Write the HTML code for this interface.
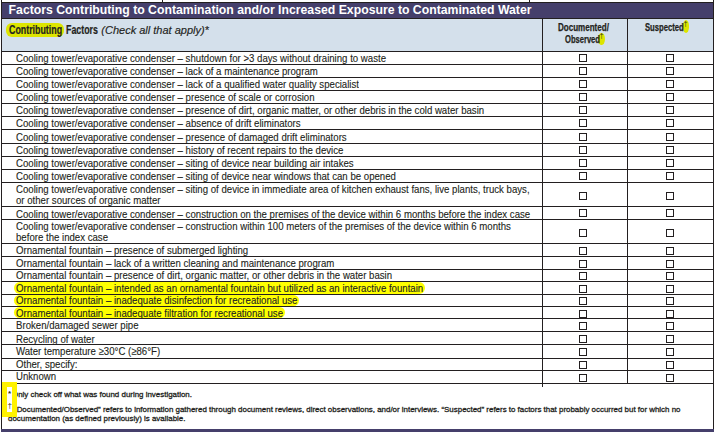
<!DOCTYPE html><html><head><meta charset="utf-8"><style>
html,body{margin:0;padding:0;}
body{width:715px;height:432px;position:relative;overflow:hidden;background:#fff;font-family:"Liberation Sans",sans-serif;color:#231f20;}
.a{position:absolute;}
.hl{position:absolute;background:#ffff00;border-radius:6px;}
.t{position:absolute;white-space:nowrap;font-size:11px;line-height:11px;transform-origin:0 0;transform:scaleX(0.875);-webkit-text-stroke:0.12px #231f20;}
.cb{position:absolute;width:6px;height:6px;border:1px solid #231f20;}
.vl{position:absolute;width:1px;background:#231f20;}
.hln{position:absolute;height:1px;background:#231f20;left:1px;width:713px;}
</style></head><body>

<div class="vl" style="left:162px;top:0;height:3px"></div>
<div class="vl" style="left:529px;top:0;height:3px"></div>
<div class="a" style="left:1px;top:2px;width:713px;height:17px;background:#231f20"></div>
<div class="a" style="left:1px;top:3px;width:713px;height:15px;background:#453f6b"></div>
<div class="a" style="left:8.6px;top:4px;white-space:nowrap;font-weight:bold;font-size:12.25px;line-height:12.25px;color:#fff">Factors Contributing to Contamination and/or Increased Exposure to Contaminated Water</div>
<div class="a" style="left:1px;top:19px;width:713px;height:32px;background:#d4e0eb"></div>
<div class="a" style="left:6px;top:22.5px;width:58.4px;height:14px;background:#dde500;border-radius:6px"></div>
<div class="a" style="left:9px;top:24px;white-space:nowrap;font-weight:bold;font-size:12px;line-height:12px;transform-origin:0 0;transform:scaleX(0.737);-webkit-text-stroke:0.2px #231f20">Contributing</div>
<div class="a" style="left:66px;top:24px;white-space:nowrap;font-weight:bold;font-size:12px;line-height:12px;transform-origin:0 0;transform:scaleX(0.737);-webkit-text-stroke:0.2px #231f20">Factors</div>
<div class="a" style="left:101.3px;top:25px;white-space:nowrap;font-style:italic;font-size:11px;line-height:11px;-webkit-text-stroke:0.15px #231f20">(Check all that apply)*</div>
<div class="a" style="left:598.3px;top:33px;width:6.5px;height:12.3px;background:#dde500;border-radius:50%"></div>
<div class="a" style="left:682.5px;top:20.2px;width:6.8px;height:13px;background:#dde500;border-radius:50%"></div>
<div style="position:absolute;white-space:nowrap;font-weight:bold;font-size:10.8px;line-height:10.8px;transform-origin:0 0;-webkit-text-stroke:0.25px #231f20;left:558.2px;top:22px;transform:scaleX(0.744)">Documented/</div>
<div style="position:absolute;white-space:nowrap;font-weight:bold;font-size:10.8px;line-height:10.8px;transform-origin:0 0;-webkit-text-stroke:0.25px #231f20;left:564.5px;top:34px;transform:scaleX(0.702)">Observed</div>
<div style="position:absolute;white-space:nowrap;font-weight:bold;font-size:10.8px;line-height:10.8px;transform-origin:0 0;-webkit-text-stroke:0.25px #231f20;left:644.7px;top:22px;transform:scaleX(0.709)">Suspected</div>
<div class="a" style="left:599.8px;top:33px;font-size:6.5px;line-height:6.5px">†</div>
<div class="a" style="left:683.8px;top:21px;font-size:6.5px;line-height:6.5px">†</div>
<div class="hln" style="top:51px"></div>
<div class="hln" style="top:64px"></div>
<div class="hln" style="top:77px"></div>
<div class="hln" style="top:90px"></div>
<div class="hln" style="top:103px"></div>
<div class="hln" style="top:116px"></div>
<div class="hln" style="top:129px"></div>
<div class="hln" style="top:143px"></div>
<div class="hln" style="top:156px"></div>
<div class="hln" style="top:169px"></div>
<div class="hln" style="top:182px"></div>
<div class="hln" style="top:206px"></div>
<div class="hln" style="top:219px"></div>
<div class="hln" style="top:243px"></div>
<div class="hln" style="top:256px"></div>
<div class="hln" style="top:269px"></div>
<div class="hln" style="top:281px"></div>
<div class="hln" style="top:294px"></div>
<div class="hln" style="top:306px"></div>
<div class="hln" style="top:318px"></div>
<div class="hln" style="top:331px"></div>
<div class="hln" style="top:344px"></div>
<div class="hln" style="top:358px"></div>
<div class="hln" style="top:370px"></div>
<div class="hln" style="top:383px"></div>
<div class="hl" style="left:14.3px;top:282px;width:411.2px;height:12px"></div>
<div class="hl" style="left:14.3px;top:295px;width:285.2px;height:11px"></div>
<div class="hl" style="left:14.3px;top:307px;width:270.7px;height:11px"></div>
<div class="t" style="left:16.1px;top:53px">Cooling tower/evaporative condenser – shutdown for &gt;3 days without draining to waste</div>
<div class="cb" style="left:579px;top:54px"></div>
<div class="cb" style="left:666px;top:54px"></div>
<div class="t" style="left:16.1px;top:66px">Cooling tower/evaporative condenser – lack of a maintenance program</div>
<div class="cb" style="left:579px;top:67px"></div>
<div class="cb" style="left:666px;top:67px"></div>
<div class="t" style="left:16.1px;top:79px">Cooling tower/evaporative condenser – lack of a qualified water quality specialist</div>
<div class="cb" style="left:579px;top:80px"></div>
<div class="cb" style="left:666px;top:80px"></div>
<div class="t" style="left:16.1px;top:92px">Cooling tower/evaporative condenser – presence of scale or corrosion</div>
<div class="cb" style="left:579px;top:93px"></div>
<div class="cb" style="left:666px;top:93px"></div>
<div class="t" style="left:16.1px;top:105px">Cooling tower/evaporative condenser – presence of dirt, organic matter, or other debris in the cold water basin</div>
<div class="cb" style="left:579px;top:106px"></div>
<div class="cb" style="left:666px;top:106px"></div>
<div class="t" style="left:16.1px;top:118px">Cooling tower/evaporative condenser – absence of drift eliminators</div>
<div class="cb" style="left:579px;top:119px"></div>
<div class="cb" style="left:666px;top:119px"></div>
<div class="t" style="left:16.1px;top:132px">Cooling tower/evaporative condenser – presence of damaged drift eliminators</div>
<div class="cb" style="left:579px;top:133px"></div>
<div class="cb" style="left:666px;top:133px"></div>
<div class="t" style="left:16.1px;top:145px">Cooling tower/evaporative condenser – history of recent repairs to the device</div>
<div class="cb" style="left:579px;top:146px"></div>
<div class="cb" style="left:666px;top:146px"></div>
<div class="t" style="left:16.1px;top:158px">Cooling tower/evaporative condenser – siting of device near building air intakes</div>
<div class="cb" style="left:579px;top:159px"></div>
<div class="cb" style="left:666px;top:159px"></div>
<div class="t" style="left:16.1px;top:171px">Cooling tower/evaporative condenser – siting of device near windows that can be opened</div>
<div class="cb" style="left:579px;top:172px"></div>
<div class="cb" style="left:666px;top:172px"></div>
<div class="t" style="left:16.1px;top:184px">Cooling tower/evaporative condenser – siting of device in immediate area of kitchen exhaust fans, live plants, truck bays,</div>
<div class="t" style="left:16.1px;top:195px">or other sources of organic matter</div>
<div class="cb" style="left:579px;top:192px"></div>
<div class="cb" style="left:666px;top:192px"></div>
<div class="t" style="left:16.1px;top:209px">Cooling tower/evaporative condenser – construction on the premises of the device within 6 months before the index case</div>
<div class="cb" style="left:579px;top:209px"></div>
<div class="cb" style="left:666px;top:209px"></div>
<div class="t" style="left:16.1px;top:221px">Cooling tower/evaporative condenser – construction within 100 meters of the premises of the device within 6 months</div>
<div class="t" style="left:16.1px;top:232px">before the index case</div>
<div class="cb" style="left:579px;top:229px"></div>
<div class="cb" style="left:666px;top:229px"></div>
<div class="t" style="left:16.1px;top:245px">Ornamental fountain – presence of submerged lighting</div>
<div class="cb" style="left:579px;top:247px"></div>
<div class="cb" style="left:666px;top:247px"></div>
<div class="t" style="left:16.1px;top:258px">Ornamental fountain – lack of a written cleaning and maintenance program</div>
<div class="cb" style="left:579px;top:260px"></div>
<div class="cb" style="left:666px;top:260px"></div>
<div class="t" style="left:16.1px;top:270px">Ornamental fountain – presence of dirt, organic matter, or other debris in the water basin</div>
<div class="cb" style="left:579px;top:272px"></div>
<div class="cb" style="left:666px;top:272px"></div>
<div class="t" style="left:16.1px;top:283px">Ornamental fountain – intended as an ornamental fountain but utilized as an interactive fountain</div>
<div class="cb" style="left:579px;top:285px"></div>
<div class="cb" style="left:666px;top:285px"></div>
<div class="t" style="left:16.1px;top:295px">Ornamental fountain – inadequate disinfection for recreational use</div>
<div class="cb" style="left:579px;top:297px"></div>
<div class="cb" style="left:666px;top:297px"></div>
<div class="t" style="left:16.1px;top:308px">Ornamental fountain – inadequate filtration for recreational use</div>
<div class="cb" style="left:579px;top:310px"></div>
<div class="cb" style="left:666px;top:310px"></div>
<div class="t" style="left:16.1px;top:320px">Broken/damaged sewer pipe</div>
<div class="cb" style="left:579px;top:322px"></div>
<div class="cb" style="left:666px;top:322px"></div>
<div class="t" style="left:16.1px;top:334px">Recycling of water</div>
<div class="cb" style="left:579px;top:335px"></div>
<div class="cb" style="left:666px;top:335px"></div>
<div class="t" style="left:16.1px;top:346px">Water temperature ≥30°C (≥86°F)</div>
<div class="cb" style="left:579px;top:348px"></div>
<div class="cb" style="left:666px;top:348px"></div>
<div class="t" style="left:16.1px;top:359px">Other, specify:</div>
<div class="cb" style="left:579px;top:361px"></div>
<div class="cb" style="left:666px;top:361px"></div>
<div class="t" style="left:16.1px;top:371px">Unknown</div>
<div class="cb" style="left:579px;top:374px"></div>
<div class="cb" style="left:666px;top:374px"></div>
<div class="vl" style="left:1px;top:0;height:432px"></div>
<div class="vl" style="left:713px;top:0;height:432px"></div>
<div class="vl" style="left:542px;top:19px;height:368px"></div>
<div class="vl" style="left:627px;top:19px;height:365px"></div>
<div class="a" style="left:12.3px;top:391px;white-space:nowrap;font-size:8px;line-height:8px;transform-origin:0 0;transform:scaleX(0.99);-webkit-text-stroke:0.3px #231f20">Only check off what was found during investigation.</div>
<div class="a" style="left:14.3px;top:406px;white-space:nowrap;font-size:8px;line-height:8px;transform-origin:0 0;transform:scaleX(0.99);-webkit-text-stroke:0.3px #231f20">“Documented/Observed” refers to information gathered through document reviews, direct observations, and/or interviews. “Suspected” refers to factors that probably occurred but for which no</div>
<div class="a" style="left:7.5px;top:415px;white-space:nowrap;font-size:8px;line-height:8px;transform-origin:0 0;transform:scaleX(0.99);-webkit-text-stroke:0.3px #231f20">documentation (as defined previously) is available.</div>
<div class="a" style="left:2px;top:382px;width:15px;height:35px;background:#fff200"></div>
<div class="a" style="left:7px;top:387px;width:5px;height:25px;background:#fff"></div>
<div class="a" style="left:8px;top:390px;font-weight:bold;font-size:8px;line-height:8px">*</div>
<div class="a" style="left:7.5px;top:402px;font-size:8px;line-height:8px">†</div>
<div class="a" style="left:1px;top:429px;width:713px;height:3px;background:#453f6b"></div>
</body></html>
